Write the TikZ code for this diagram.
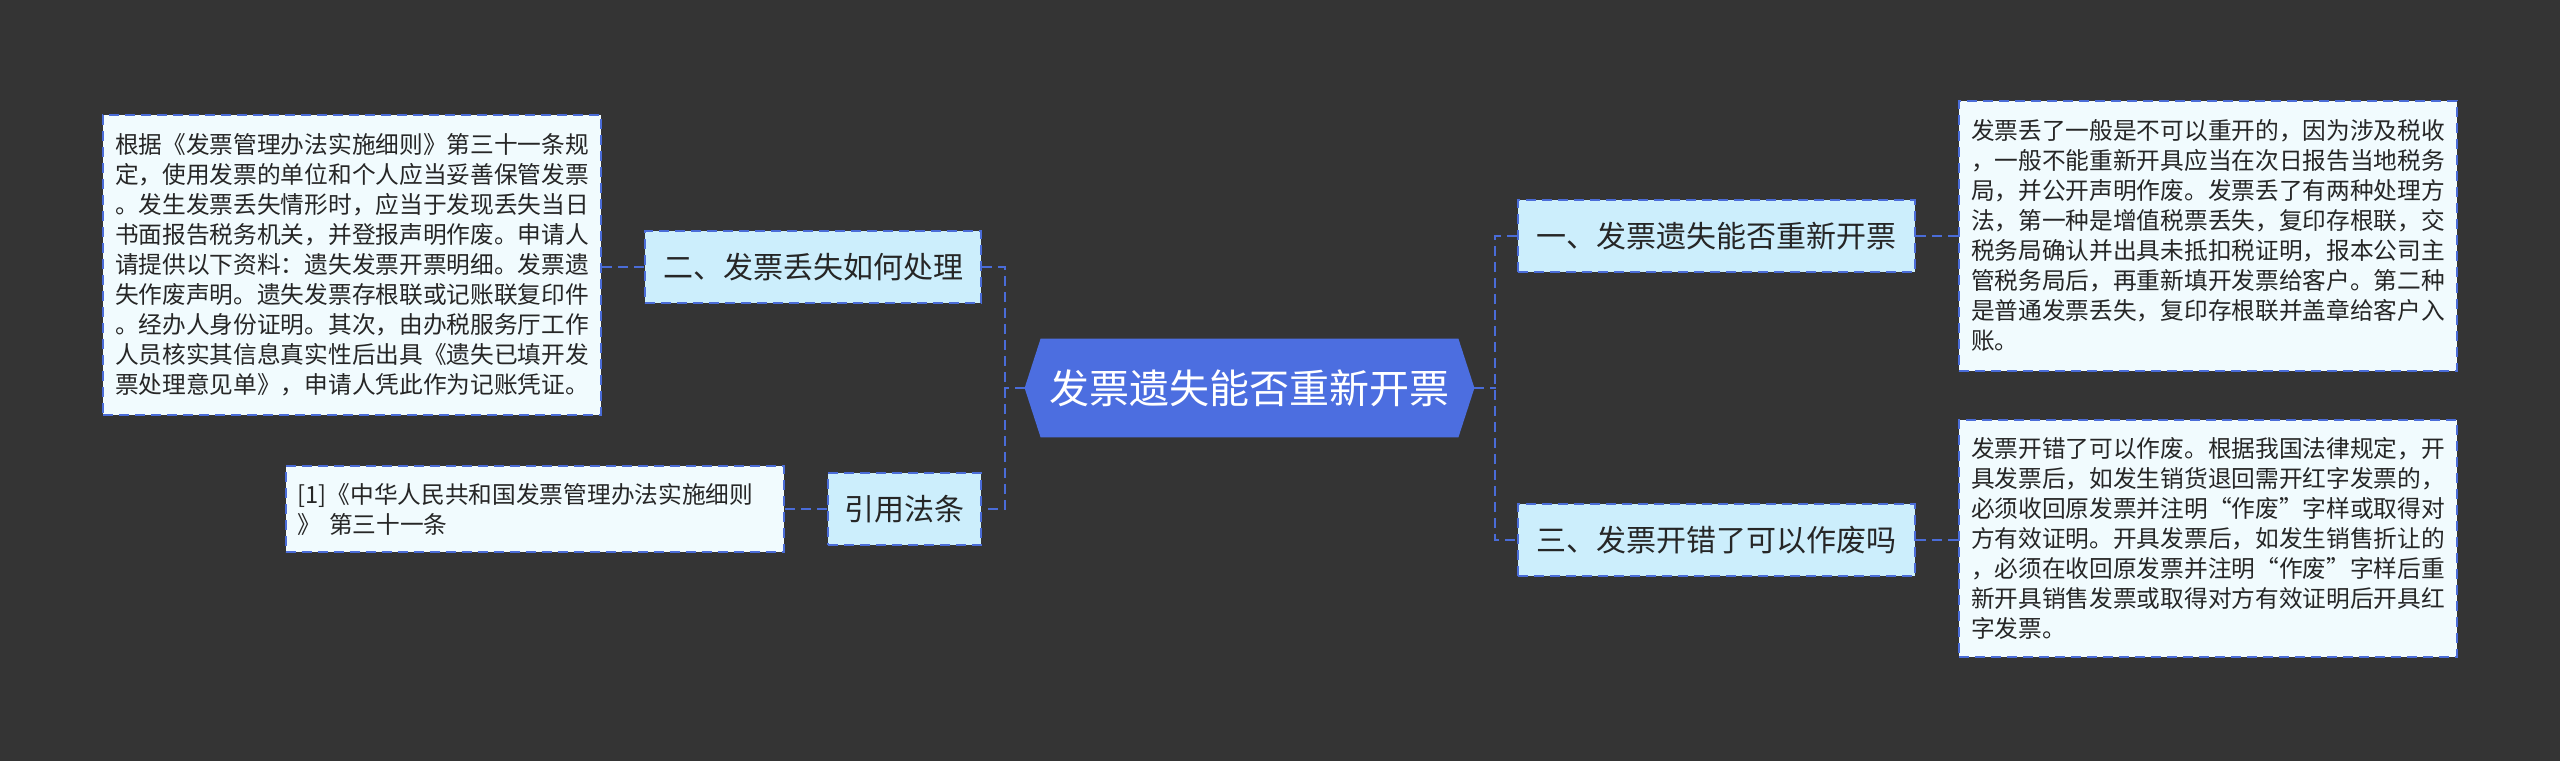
\documentclass[tikz,border=0pt]{standalone}
\usepackage{fontspec}
\setmainfont{Noto Sans CJK SC}
\usetikzlibrary{calc}
\pgfdeclarelayer{background}
\pgfsetlayers{background,main}
\definecolor{bg}{HTML}{343434}
\definecolor{lineblue}{HTML}{4A6CD8}
\definecolor{centerfill}{HTML}{4C6EE0}
\definecolor{topicfill}{HTML}{CCEEFC}
\definecolor{boxfill}{HTML}{F1FBFE}
\definecolor{textdark}{HTML}{262626}
\tikzset{
  conn/.style={draw=lineblue, line width=1pt, dash pattern=on 5pt off 3pt},
  textbox/.style={draw=lineblue, line width=1pt, dash pattern=on 5pt off 3pt,
    fill=boxfill, text width=237pt, align=left, inner xsep=6pt, inner ysep=0pt,
    font=\fontsize{11.85pt}{15pt}\selectfont, text=textdark},
  topic/.style={draw=lineblue, line width=1pt, dash pattern=on 5pt off 3pt,
    fill=topicfill, inner sep=0pt, font=\fontsize{15pt}{18pt}\selectfont, text=textdark},
  centre/.style={inner sep=0pt, minimum width=208.5pt, minimum height=49pt,
    font=\fontsize{20pt}{24pt}\selectfont, text=white}
}
\begin{document}
\begin{tikzpicture}[x=0.5pt,y=-0.5pt]
\begin{pgfonlayer}{background}
\fill[bg] (0,0) rectangle (2560,761);
\end{pgfonlayer}
\useasboundingbox (0,0) rectangle (2560,761);

% central node
\node[centre] (c) at (1249.5,388) {发票遗失能否重新开票};
\coordinate (cL) at ($(c.west)+(-8pt,0)$);
\coordinate (cR) at ($(c.east)+(8pt,0)$);
\begin{pgfonlayer}{background}
\fill[centerfill] (c.north west) -- (c.north east) -- (cR) -- (c.south east) -- (c.south west) -- (cL) -- cycle;
\end{pgfonlayer}

% left side
\node[topic, minimum width=168pt, minimum height=36pt] (n2) at (813,267) {二、发票丢失如何处理};
\node[topic, minimum width=76.5pt, minimum height=36pt] (cite) at (904.5,509) {引用法条};
\node[textbox, minimum height=150pt] (t2) at (352,265) {根据《发票管理办法实施细则》第三十一条规\\定，使用发票的单位和个人应当妥善保管发票\\。发生发票丢失情形时，应当于发现丢失当日\\书面报告税务机关，并登报声明作废。申请人\\请提供以下资料：遗失发票开票明细。发票遗\\失作废声明。遗失发票存根联或记账联复印件\\。经办人身份证明。其次，由办税服务厅工作\\人员核实其信息真实性后出具《遗失已填开发\\票处理意见单》，申请人凭此作为记账凭证。};
\node[textbox, minimum height=43pt] (rf) at (534.5,509) {[1]《中华人民共和国发票管理办法实施细则\\》 第三十一条};

% right side
\node[topic, minimum width=198.5pt, minimum height=36pt] (n1) at (1716.5,236) {一、发票遗失能否重新开票};
\node[topic, minimum width=198.5pt, minimum height=36pt] (n3) at (1716.5,540) {三、发票开错了可以作废吗};
\node[textbox, minimum height=135pt] (t1) at (2208,236) {发票丢了一般是不可以重开的，因为涉及税收\\，一般不能重新开具应当在次日报告当地税务\\局，并公开声明作废。发票丢了有两种处理方\\法，第一种是增值税票丢失，复印存根联，交\\税务局确认并出具未抵扣税证明，报本公司主\\管税务局后，再重新填开发票给客户。第二种\\是普通发票丢失，复印存根联并盖章给客户入\\账。};
\node[textbox, minimum height=118.5pt] (t3) at (2208,538.5) {发票开错了可以作废。根据我国法律规定，开\\具发票后，如发生销货退回需开红字发票的，\\必须收回原发票并注明“作废”字样或取得对\\方有效证明。开具发票后，如发生销售折让的\\，必须在收回原发票并注明“作废”字样后重\\新开具销售发票或取得对方有效证明后开具红\\字发票。};

% connectors
\draw[conn] (cL) -- ([xshift=-10.5pt]cL);
\draw[conn] (n2.east) -- ([xshift=11.5pt]n2.east) |- (cite.east);
\draw[conn] (n2.west) -- (n2.west -| t2.east);
\draw[conn] (cite.west) -- (cite.west -| rf.east);
\draw[conn] (cR) -- ([xshift=11pt]cR);
\draw[conn] (n1.west) -- ([xshift=-11pt]n1.west) |- (n3.west);
\draw[conn] (n1.east) -- (n1.east -| t1.west);
\draw[conn] (n3.east) -- (n3.east -| t3.west);
\end{tikzpicture}
\end{document}
